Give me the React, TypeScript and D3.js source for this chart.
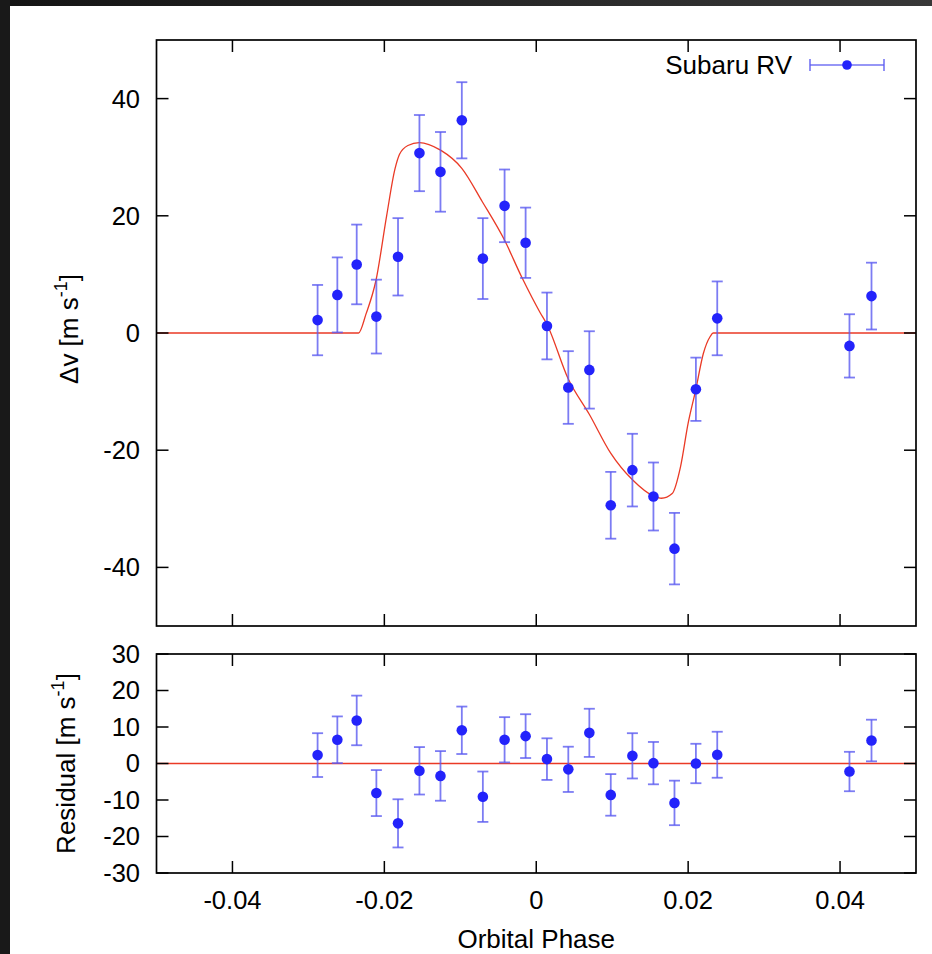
import React from "react";
import * as d3 from "d3";

// ---- data ----
const phase = [-0.02879, -0.02619, -0.02364, -0.02105, -0.0182, -0.01538, -0.01261, -0.0098, -0.00703, -0.00417, -0.0014, 0.00141, 0.00422, 0.00699, 0.00981, 0.01266, 0.01543, 0.0182, 0.02102, 0.02383, 0.04124, 0.04414];
const rv = [2.2, 6.5, 11.7, 2.8, 13.0, 30.7, 27.5, 36.3, 12.7, 21.7, 15.4, 1.2, -9.3, -6.3, -29.4, -23.4, -27.9, -36.8, -9.6, 2.5, -2.2, 6.3];
const rvErr = [6.0, 6.4, 6.8, 6.3, 6.6, 6.5, 6.8, 6.5, 6.9, 6.2, 6.0, 5.7, 6.2, 6.6, 5.7, 6.2, 5.8, 6.1, 5.4, 6.3, 5.4, 5.7];
const residual = [2.3, 6.5, 11.8, -8.1, -16.4, -2.0, -3.4, 9.1, -9.1, 6.5, 7.5, 1.2, -1.6, 8.4, -8.6, 2.1, 0.1, -10.8, 0.0, 2.4, -2.2, 6.3];

const modelPhase = [-0.05, -0.0234, -0.0224, -0.0211, -0.0197, -0.0186, -0.018, -0.0169, -0.0154, -0.0126, -0.0098, -0.0071, -0.0042, -0.0019, 0.0005, 0.0014, 0.0042, 0.007, 0.0098, 0.0127, 0.0154, 0.0165, 0.0179, 0.019, 0.02, 0.021, 0.022, 0.0229, 0.0233, 0.05];
const modelRV = [0, 0, 3.3, 9, 20, 28, 30.5, 32, 32.5, 31.2, 28.1, 22.4, 15.9, 9.5, 3.5, 1.5, -7.8, -13.9, -20.5, -25.1, -27.8, -28.2, -27.4, -22.8, -15.4, -9.7, -3.5, -0.6, 0, 0];

const xTicks = [-0.04, -0.02, 0, 0.02, 0.04];
const xTickLabels = ["-0.04", "-0.02", "0", "0.02", "0.04"];
const topYTicks = [-40, -20, 0, 20, 40];
const botYTicks = [-30, -20, -10, 0, 10, 20, 30];

const seriesName = "Subaru RV";
const xTitle = "Orbital Phase";

// ---- layout ----
const W = 932;
const H = 954;
const L = 156.5;
const R = 916;
const topT = 40;
const topB = 626;
const botT = 654;
const botB = 873;
const FONT = "'Liberation Sans', Arial, Helvetica, sans-serif";
const FS = 25.5;
const TICK = 12;

const DOT = "#2323fb";
const BAR = "#5b5bf0";
const RED = "#ea3a26";

export default function App() {
  const x = d3.scaleLinear().domain([-0.05, 0.05]).range([L, R]);
  const yTop = d3.scaleLinear().domain([-50, 50]).range([topB, topT]);
  const yBot = d3.scaleLinear().domain([-30, 30]).range([botB, botT]);

  const modelLine = d3
    .line<number>()
    .x((_, i) => x(modelPhase[i]))
    .y((d) => yTop(d))
    .curve(d3.curveMonotoneX)(modelRV) as string;

  const errorBars = (vals: number[], y: d3.ScaleLinear<number, number>) =>
    phase.map((p, i) => {
      const cx = x(p);
      const y1 = y(vals[i] + rvErr[i]);
      const y2 = y(vals[i] - rvErr[i]);
      return (
        <g key={i} stroke={BAR} strokeWidth={1.8} strokeOpacity={0.8}>
          <line x1={cx} x2={cx} y1={y1} y2={y2} />
          <line x1={cx - 5.5} x2={cx + 5.5} y1={y1} y2={y1} />
          <line x1={cx - 5.5} x2={cx + 5.5} y1={y2} y2={y2} />
        </g>
      );
    });

  const dots = (vals: number[], y: d3.ScaleLinear<number, number>) =>
    phase.map((p, i) => <circle key={i} cx={x(p)} cy={y(vals[i])} r={5.3} fill={DOT} />);

  const frame = (t: number, b: number, y: d3.ScaleLinear<number, number>, yt: number[]) => (
    <g>
      {xTicks.map((v, i) => (
        <g key={"x" + i} stroke="#000" strokeWidth={1.5}>
          <line x1={x(v)} x2={x(v)} y1={b} y2={b - TICK} />
          <line x1={x(v)} x2={x(v)} y1={t} y2={t + TICK} />
        </g>
      ))}
      {yt.map((v, i) => (
        <g key={"y" + i} stroke="#000" strokeWidth={1.5}>
          <line x1={L} x2={L + TICK} y1={y(v)} y2={y(v)} />
          <line x1={R} x2={R - TICK} y1={y(v)} y2={y(v)} />
        </g>
      ))}
      <rect x={L} y={t} width={R - L} height={b - t} fill="none" stroke="#000" strokeWidth={1.7} />
      {yt.map((v, i) => (
        <text key={"l" + i} x={140} y={y(v)} dy="0.35em" textAnchor="end" fontSize={FS} fontFamily={FONT} fill="#000">
          {String(v)}
        </text>
      ))}
    </g>
  );

  const unit = (
    <>
      <tspan> [m s</tspan>
      <tspan fontSize={18} dy={-11}>-1</tspan>
      <tspan dy={11}>]</tspan>
    </>
  );

  return (
    <div style={{ position: "absolute", left: 0, top: 0 }}>
      <svg width={W} height={H} style={{ display: "block" }}>
        <defs>
          <linearGradient id="topbar" x1="0" x2="1" y1="0" y2="0">
            <stop offset="0" stopColor="#141414" />
            <stop offset="1" stopColor="#383838" />
          </linearGradient>
        </defs>
        <rect x={0} y={0} width={W} height={H} fill="#fff" />
        <rect x={0} y={0} width={W} height={6} fill="url(#topbar)" />
        <rect x={0} y={0} width={10} height={H} fill="#191919" />

        {/* top panel */}
        <path d={modelLine} fill="none" stroke={RED} strokeWidth={1.3} />
        {errorBars(rv, yTop)}
        {dots(rv, yTop)}
        {frame(topT, topB, yTop, topYTicks)}

        {/* legend */}
        <text x={792} y={74} textAnchor="end" fontSize={26} fontFamily={FONT} fill="#000">
          {seriesName}
        </text>
        <g stroke={BAR} strokeWidth={1.6} strokeOpacity={0.85}>
          <line x1={810} x2={884} y1={65} y2={65} />
          <line x1={810} x2={810} y1={59} y2={71} />
          <line x1={884} x2={884} y1={59} y2={71} />
        </g>
        <circle cx={847} cy={65} r={4.8} fill={DOT} />

        {/* bottom panel */}
        <line x1={L} x2={R} y1={yBot(0)} y2={yBot(0)} stroke={RED} strokeWidth={1.3} />
        {errorBars(residual, yBot)}
        {dots(residual, yBot)}
        {frame(botT, botB, yBot, botYTicks)}

        {xTicks.map((v, i) => (
          <text key={i} x={x(v)} y={909} textAnchor="middle" fontSize={FS} fontFamily={FONT} fill="#000">
            {xTickLabels[i]}
          </text>
        ))}
        <text x={(L + R) / 2} y={948} textAnchor="middle" fontSize={26} fontFamily={FONT} fill="#000">
          {xTitle}
        </text>

        <text transform={`translate(78,${(topT + topB) / 2 - 4}) rotate(-90)`} textAnchor="middle" fontSize={26} fontFamily={FONT} fill="#000">
          <tspan>Δv</tspan>
          {unit}
        </text>
        <text transform={`translate(75,${(botT + botB) / 2}) rotate(-90)`} textAnchor="middle" fontSize={26} fontFamily={FONT} fill="#000">
          <tspan>Residual</tspan>
          {unit}
        </text>
      </svg>
    </div>
  );
}
